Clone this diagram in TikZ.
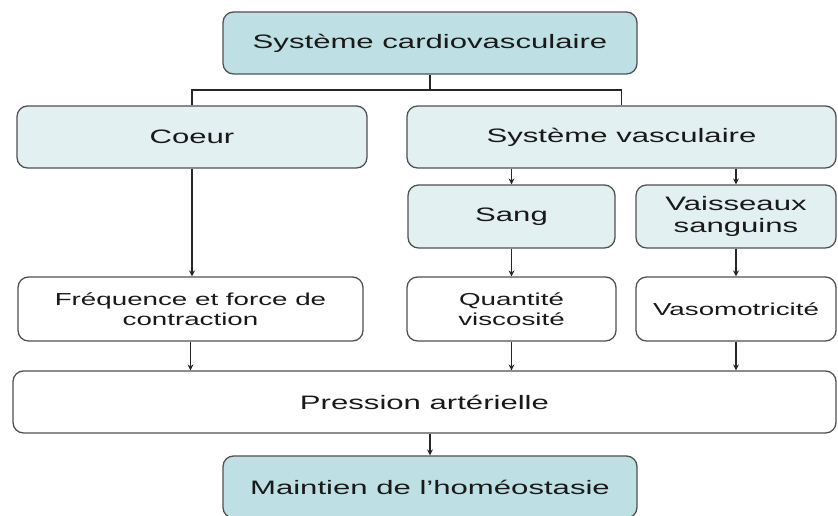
\documentclass[tikz,border=0pt]{standalone}
\usepackage{fontspec}
\setmainfont[FakeStretch=1.6]{Liberation Sans}
\usepackage{tikz}
\usetikzlibrary{arrows.meta}

\definecolor{tealdark}{RGB}{190,224,228}
\definecolor{teallight}{RGB}{226,240,242}
\definecolor{edgegray}{RGB}{80,80,80}

\tikzset{
  box/.style={draw=edgegray, line width=1.1pt, rounded corners=9pt, align=center,
    text=black!90, inner sep=0pt},
  bigtext/.style={font=\fontsize{16.6}{19}\selectfont},
  smalltext/.style={font=\fontsize{14.8}{17.5}\selectfont},
  darkbox/.style={box, bigtext, fill=tealdark},
  lightbox/.style={box, bigtext, fill=teallight},
  whitebox/.style={box, fill=white},
  link/.style={draw=black!85, line width=0.9pt},
  arrowlink/.style={link, -{Stealth[length=5pt,width=5pt]}}
}

\begin{document}
\begin{tikzpicture}
\useasboundingbox (0,0) rectangle (25.14,15.48);

\node[darkbox, minimum width=12.42cm, minimum height=1.86cm] (cardio) at (12.9,14.19) {Système cardiovasculaire};

\node[lightbox, minimum width=10.5cm, minimum height=1.86cm] (coeur) at (5.76,11.37) {Coeur};
\node[lightbox, minimum width=12.87cm, minimum height=1.86cm] (vasc) at (18.645,11.37) {Système vasculaire};

\node[lightbox, minimum width=6.21cm, minimum height=1.89cm] (sang) at (15.345,8.985) {Sang};
\node[lightbox, minimum width=6.0cm, minimum height=1.89cm] (vaiss) at (22.08,8.985) {Vaisseaux\\sanguins};

\node[whitebox, smalltext, minimum width=10.35cm, minimum height=1.92cm] (freq) at (5.715,6.21) {Fréquence et force de\\contraction};
\node[whitebox, smalltext, minimum width=6.27cm, minimum height=1.92cm] (quant) at (15.345,6.21) {Quantité\\viscosité};
\node[whitebox, smalltext, minimum width=6.0cm, minimum height=1.92cm] (vaso) at (22.08,6.21) {Vasomotricité};

\node[whitebox, bigtext, minimum width=24.69cm, minimum height=1.86cm] (pression) at (12.735,3.42) {Pression artérielle};

\node[darkbox, minimum width=12.42cm, minimum height=1.86cm] (homeo) at (12.9,0.87) {Maintien de l'homéostasie};

\coordinate (fork) at (12.9,12.78);
\draw[link] (cardio.south) -- (fork);
\draw[link] (fork) -| (coeur.north);
\draw[link] (fork) -| (vasc.north);

\draw[arrowlink] (sang.north |- vasc.south) -- (sang.north);
\draw[arrowlink] (vaiss.north |- vasc.south) -- (vaiss.north);

\draw[arrowlink] (coeur.south) -- (coeur.south |- freq.north);
\draw[arrowlink] (sang.south) -- (quant.north);
\draw[arrowlink] (vaiss.south) -- (vaso.north);

\draw[arrowlink] (freq.south) -- (freq.south |- pression.north);
\draw[arrowlink] (quant.south) -- (quant.south |- pression.north);
\draw[arrowlink] (vaso.south) -- (vaso.south |- pression.north);

\draw[arrowlink] (homeo.north |- pression.south) -- (homeo.north);

\end{tikzpicture}
\end{document}
